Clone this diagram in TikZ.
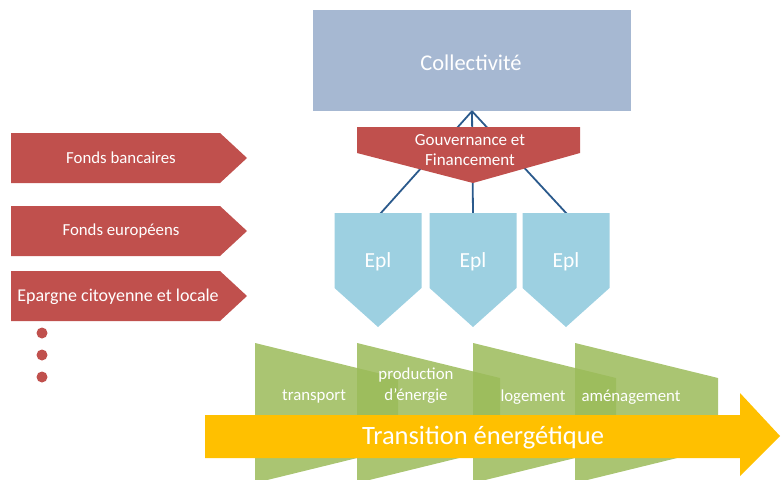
\documentclass[tikz,border=0pt]{standalone}
\usepackage{fontspec}
\setmainfont{Carlito}
\definecolor{collc}{HTML}{A6B8D2}
\definecolor{redc}{HTML}{C0504D}
\definecolor{eplc}{HTML}{9DD0E1}
\definecolor{greenc}{HTML}{9BBB59}
\definecolor{yellc}{HTML}{FFC000}
\definecolor{linec}{HTML}{2B5A8C}
\begin{document}
\begin{tikzpicture}[x=1pt,y=-1pt,
  lbl/.style={text=white,font=\fontsize{16.8}{20}\selectfont,inner sep=0pt,align=center},
  biglbl/.style={text=white,font=\fontsize{22.5}{26}\selectfont,inner sep=0pt},
  redshape/.style={fill=redc,draw=none},
  eplshape/.style={fill=eplc,draw=none},
  greenshape/.style={fill=greenc,fill opacity=0.85,draw=none},
  conn/.style={draw=linec,line width=1.8pt}]
\useasboundingbox (0,0) rectangle (781,479);
% Collectivite
\node[fill=collc,minimum width=318pt,minimum height=101pt,inner sep=0pt] (coll) at (472,60.5) {};
\node[biglbl] (colltxt) at (471,63) {Collectivité};
% connector ends
\coordinate (e1) at (380,214);
\coordinate (e2) at (473,214);
\coordinate (e3) at (567,214);
\draw[conn] (coll.south) -- (e1);
\draw[conn] (coll.south) -- (e2);
\draw[conn] (coll.south) -- (e3);
% Gouvernance
\path[redshape] (357,127) -- (580,127) -- (580,153) -- (473,183) -- (357,153) -- cycle;
\node[lbl,font=\fontsize{17}{20}\selectfont] (gouv) at (470,150) {Gouvernance et\\Financement};
% Epl
\foreach \x/\n in {378/1,473/2,566/3}{
  \path[eplshape] (\x-43.5,213) -- (\x+43.5,213) -- (\x+43.5,288) -- (\x,327) -- (\x-43.5,288) -- cycle;
  \node[biglbl,font=\fontsize{21.5}{26}\selectfont] (epl\n) at (\x,262) {Epl};
}
% Left red arrows
\foreach \y in {158,231,296}{
  \path[redshape] (11,\y-25) -- (220,\y-25) -- (247,\y) -- (220,\y+25) -- (11,\y+25) -- cycle;
}
\node[lbl] (fa) at (121,158) {Fonds bancaires};
\node[lbl] (fb) at (121,231) {Fonds européens};
\node[lbl,font=\fontsize{18}{20}\selectfont] (fc) at (118,297) {Epargne citoyenne et locale};
% dots
\foreach \y in {333,355,377}{
  \fill[redc] (42,\y) circle (5.5);
}
% green shapes
\foreach \x in {255,357,473,575}{
  \path[greenshape] (\x,343) -- (\x+143,378) -- (\x+143,448) -- (\x,483) -- cycle;
}
\node[lbl] (g1) at (314,397) {transport};
\node[lbl,font=\fontsize{16.8}{21}\selectfont] (g2) at (416,386) {production\\d’énergie};
\node[lbl] (g3) at (533,397) {logement};
\node[lbl] (g4) at (631,397) {aménagement};
% yellow arrow
\path[fill=yellc] (205,415) -- (740,415) -- (740,393) -- (780,436) -- (740,476) -- (740,458) -- (205,458) -- cycle;
\node[biglbl,font=\fontsize{26.5}{30}\selectfont] (trans) at (483,438) {Transition énergétique};
\end{tikzpicture}
\end{document}
